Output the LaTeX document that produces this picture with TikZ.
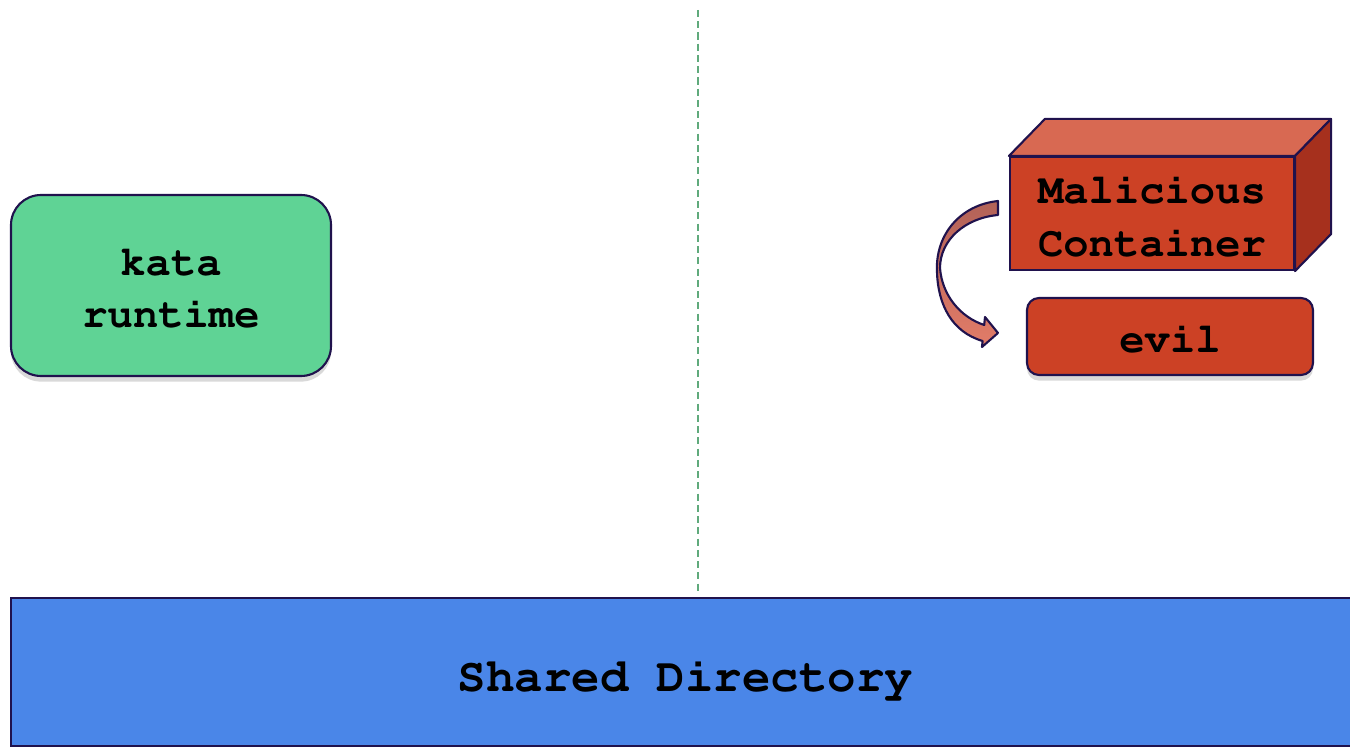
\documentclass[tikz,border=0pt]{standalone}
\usepackage[T1]{fontenc}
\usepackage{courier}
\usetikzlibrary{positioning,calc,shadows}
\definecolor{kataGreen}{RGB}{95,211,149}
\definecolor{shareBlue}{RGB}{74,134,232}
\definecolor{evilRed}{RGB}{204,65,37}
\definecolor{evilTop}{RGB}{216,105,82}
\definecolor{evilSide}{RGB}{166,48,29}
\definecolor{edgeNavy}{RGB}{32,18,77}
\definecolor{splitGreen}{RGB}{96,170,124}
\definecolor{arrowDark}{RGB}{178,98,88}
\definecolor{arrowLight}{RGB}{226,124,104}
\tikzset{
  box/.style={draw=edgeNavy, line width=0.6pt, align=center,
              font=\ttfamily\bfseries\fontsize{12}{15}\selectfont, inner sep=0pt},
  softshadow/.style={drop shadow={shadow xshift=0pt, shadow yshift=-1.6pt,
                     opacity=0.15, fill=black}},
  runtimebox/.style={box, softshadow, fill=kataGreen, rounded corners=0.3cm,
                     minimum width=3.2cm, minimum height=1.81cm},
  frontface/.style={box, fill=evilRed, minimum width=2.84cm, minimum height=1.13cm},
  evilbox/.style={box, softshadow, fill=evilRed, rounded corners=0.12cm,
                  minimum width=2.86cm, minimum height=0.77cm},
  sharedbox/.style={box, fill=shareBlue, minimum width=13.49cm, minimum height=1.48cm},
  boxtext/.style={font=\ttfamily\bfseries\fontsize{12}{15}\selectfont, align=center,
                  inner sep=0pt},
  faceline/.style={draw=edgeNavy, line width=0.6pt, line join=round},
  splitline/.style={draw=splitGreen, line width=0.7pt, dash pattern=on 2pt off 1.2pt},
}

\begin{document}
\begin{tikzpicture}
\useasboundingbox (0,0) rectangle (13.5,-7.48);

% ---------------- guest / host split ----------------
\coordinate (splitTop) at (6.98,-0.10);
\coordinate (splitBot) at (6.98,-5.92);
\draw[splitline] (splitTop) -- (splitBot);

% ---------------- shared directory ----------------
\node[sharedbox] (shared) at (6.855,-6.72) {};
\node[boxtext, font=\ttfamily\bfseries\fontsize{13.5}{16}\selectfont] (sharedText)
  at ($(shared.center)+(0,-0.07)$) {Shared Directory};

% ---------------- kata runtime ----------------
\node[runtimebox] (kata) at (1.71,-2.855) {};
\node[boxtext] (kataText) at ($(kata.center)+(0,-0.03)$) {kata\\runtime};

% ---------------- malicious container (3d box) ----------------
\node[frontface] (mal) at (11.52,-2.135) {};
\filldraw[faceline, fill=evilTop] (mal.north west) -- ++(0.36,0.37)
  -- ($(mal.north east)+(0.36,0.37)$) -- (mal.north east) -- cycle;
\filldraw[faceline, fill=evilSide] (mal.north east) -- ++(0.36,0.37)
  -- ($(mal.south east)+(0.36,0.37)$) -- (mal.south east) -- cycle;
\node[boxtext] (malText) at ($(mal.center)+(0,-0.03)$) {Malicious\\Container};

\node[evilbox] (evil) at (11.70,-3.365) {};
\node[boxtext] (evilText) at ($(evil.center)+(0,-0.02)$) {evil};

% curved block arrow: container spawns evil
\shade[top color=arrowDark, bottom color=arrowLight, draw=edgeNavy, line width=0.6pt,
       line join=round]
  (9.98,-2.01) .. controls (9.60,-2.05) and (9.35,-2.35) .. (9.37,-2.72)
  .. controls (9.38,-3.05) and (9.52,-3.32) .. (9.826,-3.41)
  -- (9.82,-3.47) -- (9.98,-3.33) -- (9.85,-3.17) -- (9.842,-3.25)
  .. controls (9.60,-3.17) and (9.42,-2.95) .. (9.40,-2.68)
  .. controls (9.40,-2.40) and (9.65,-2.18) .. (9.98,-2.15) -- cycle;
\end{tikzpicture}
\end{document}
